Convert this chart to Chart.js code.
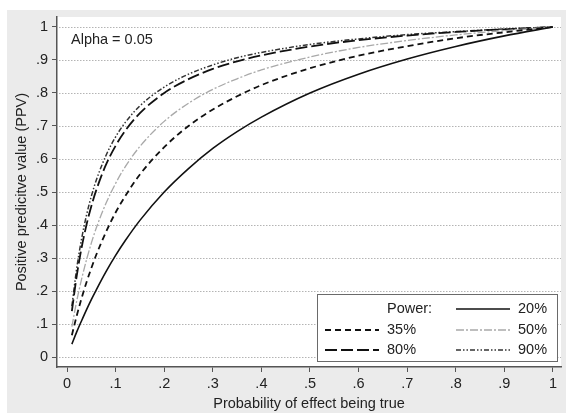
<!DOCTYPE html>
<html>
<head>
<meta charset="utf-8">
<script src="https://cdn.jsdelivr.net/npm/chart.js@4/dist/chart.umd.min.js"></script>
<style>
  html, body { margin: 0; padding: 0; background: #fff; }
  canvas { display: block; }
</style>
</head>
<body>
<canvas id="ppv" width="566" height="413"></canvas>
<script>
// Probability of effect being true (x) and PPV
const probTrue = [0.01, 0.02, 0.03, 0.04, 0.05, 0.06, 0.08, 0.1, 0.12, 0.15, 0.2, 0.25, 0.3, 0.35, 0.4, 0.5, 0.6, 0.7, 0.8, 0.9, 1];
const ppv20 = [0.039, 0.076, 0.110, 0.143, 0.174, 0.203, 0.258, 0.308, 0.353, 0.414, 0.500, 0.571, 0.632, 0.683, 0.727, 0.800, 0.857, 0.903, 0.941, 0.973, 1];
const ppv35 = [0.066, 0.125, 0.178, 0.226, 0.269, 0.309, 0.378, 0.438, 0.488, 0.553, 0.636, 0.700, 0.750, 0.790, 0.824, 0.875, 0.913, 0.942, 0.966, 0.984, 1];
const ppv50 = [0.092, 0.170, 0.236, 0.294, 0.345, 0.390, 0.465, 0.526, 0.577, 0.638, 0.714, 0.769, 0.811, 0.843, 0.870, 0.909, 0.938, 0.959, 0.976, 0.989, 1];
const ppv80 = [0.139, 0.246, 0.331, 0.400, 0.457, 0.505, 0.582, 0.640, 0.686, 0.739, 0.800, 0.842, 0.873, 0.896, 0.914, 0.941, 0.960, 0.974, 0.985, 0.993, 1];
const ppv90 = [0.154, 0.269, 0.358, 0.429, 0.487, 0.535, 0.610, 0.667, 0.711, 0.761, 0.818, 0.857, 0.885, 0.907, 0.923, 0.947, 0.964, 0.977, 0.986, 0.994, 1];

const xTicks = [0, 0.1, 0.2, 0.3, 0.4, 0.5, 0.6, 0.7, 0.8, 0.9, 1];
const xTickLabels = ['0', '.1', '.2', '.3', '.4', '.5', '.6', '.7', '.8', '.9', '1'];
const yTicks = [0, 0.1, 0.2, 0.3, 0.4, 0.5, 0.6, 0.7, 0.8, 0.9, 1];
const yTickLabels = ['0', '.1', '.2', '.3', '.4', '.5', '.6', '.7', '.8', '.9', '1'];

const FONT = '"Liberation Sans", Arial, sans-serif';
const FSIZE = 14.5;

const pts = ys => probTrue.map((x, i) => ({ x, y: ys[i] }));

const series = [
  { label: '20%', data: pts(ppv20), borderColor: '#111', borderWidth: 1.6, borderDash: [] },
  { label: '35%', data: pts(ppv35), borderColor: '#111', borderWidth: 1.8, borderDash: [6, 4] },
  { label: '50%', data: pts(ppv50), borderColor: '#a9a9a9', borderWidth: 1.3, borderDash: [8, 2, 2, 2] },
  { label: '80%', data: pts(ppv80), borderColor: '#111', borderWidth: 1.8, borderDash: [12, 4] },
  { label: '90%', data: pts(ppv90), borderColor: '#333', borderWidth: 1.5, borderDash: [5, 2, 1.5, 2, 1.5, 2] }
];

// background: white margin, light grey graph region, white plot region
const backdrop = {
  id: 'backdrop',
  beforeDraw(chart) {
    const { ctx, chartArea: a } = chart;
    ctx.save();
    ctx.fillStyle = '#fff';
    ctx.fillRect(0, 0, chart.width, chart.height);
    ctx.fillStyle = '#ebebeb';
    ctx.fillRect(7, 10, chart.width - 7, chart.height - 10);
    ctx.fillStyle = '#fff';
    ctx.fillRect(a.left, a.top, a.right - a.left, a.bottom - a.top);
    ctx.restore();
  }
};

// dotted horizontal grid at each y tick (positions come from the y scale)
const dottedGrid = {
  id: 'dottedGrid',
  beforeDatasetsDraw(chart) {
    const { ctx, chartArea: a, scales: { y } } = chart;
    ctx.save();
    ctx.strokeStyle = '#b4b4b4';
    ctx.lineWidth = 1;
    ctx.setLineDash([1.5, 1.5]);
    yTicks.forEach(v => {
      const py = Math.round(y.getPixelForValue(v)) + 0.5;
      ctx.beginPath();
      ctx.moveTo(a.left + 2, py);
      ctx.lineTo(a.right, py);
      ctx.stroke();
    });
    ctx.restore();
  }
};

// "Alpha" note + Stata-like legend box
const annotations = {
  id: 'annotations',
  afterDraw(chart) {
    const { ctx } = chart;
    ctx.save();
    ctx.font = FSIZE + 'px ' + FONT;
    ctx.fillStyle = '#222';
    ctx.textBaseline = 'middle';
    ctx.fillText('Alpha = 0.05', 71, 40);

    // legend box
    ctx.fillStyle = '#fff';
    ctx.fillRect(317, 294, 240, 67);
    ctx.strokeStyle = '#6a6a6a';
    ctx.lineWidth = 1;
    ctx.strokeRect(317.5, 294.5, 240, 67);

    const rows = [309, 330, 350];
    const cols = [{ l0: 325, l1: 379, t: 387 }, { l0: 456, l1: 510, t: 518 }];
    const slots = [[null, 0], [1, 2], [3, 4]];
    ctx.fillStyle = '#222';
    ctx.fillText('Power:', cols[0].t, rows[0]);
    slots.forEach((row, r) => {
      row.forEach((idx, c) => {
        if (idx === null) return;
        const s = series[idx];
        const col = cols[c];
        ctx.beginPath();
        ctx.strokeStyle = s.borderColor;
        ctx.lineWidth = s.borderWidth;
        ctx.setLineDash(s.borderDash);
        ctx.moveTo(col.l0, rows[r]);
        ctx.lineTo(col.l1, rows[r]);
        ctx.stroke();
        ctx.setLineDash([]);
        ctx.fillStyle = '#222';
        ctx.fillText(s.label, col.t, rows[r]);
      });
    });
    ctx.restore();
  }
};

new Chart(document.getElementById('ppv'), {
  type: 'line',
  data: {
    datasets: series.map(s => ({
      label: s.label,
      data: s.data,
      borderColor: s.borderColor,
      borderWidth: s.borderWidth,
      borderDash: s.borderDash,
      pointRadius: 0,
      fill: false,
      cubicInterpolationMode: 'monotone'
    }))
  },
  options: {
    responsive: false,
    animation: false,
    devicePixelRatio: 1,
    layout: { padding: { left: 7, top: 17, right: 5, bottom: 0 } },
    plugins: { legend: { display: false }, tooltip: { enabled: false } },
    scales: {
      x: {
        type: 'linear',
        min: -0.0206,
        max: 1.0165,
        afterBuildTicks: s => { s.ticks = xTicks.map(v => ({ value: v })); },
        afterFit: s => { s.height = 46; },
        ticks: {
          autoSkip: false,
          maxRotation: 0,
          padding: 3,
          color: '#222',
          font: { family: FONT, size: FSIZE },
          callback: (v, i) => xTickLabels[i]
        },
        grid: { drawOnChartArea: false, drawTicks: true, tickLength: 5, tickColor: '#555', tickWidth: 1 },
        border: { display: true, color: '#555', width: 1.5 },
        title: {
          display: true,
          text: 'Probability of effect being true',
          color: '#222',
          font: { family: FONT, size: FSIZE },
          padding: { top: 1, bottom: 0 }
        }
      },
      y: {
        type: 'linear',
        min: -0.0303,
        max: 1.0303,
        afterBuildTicks: s => { s.ticks = yTicks.map(v => ({ value: v })); },
        afterFit: s => { s.width = 50; },
        ticks: {
          autoSkip: false,
          padding: 4,
          color: '#222',
          font: { family: FONT, size: FSIZE },
          callback: (v, i) => yTickLabels[i]
        },
        grid: { drawOnChartArea: false, drawTicks: true, tickLength: 5, tickColor: '#555', tickWidth: 1 },
        border: { display: true, color: '#555', width: 1.5 },
        title: {
          display: true,
          text: 'Positive predicitve value (PPV)',
          color: '#222',
          font: { family: FONT, size: FSIZE },
          padding: { top: 6, bottom: 0 }
        }
      }
    }
  },
  plugins: [backdrop, dottedGrid, annotations]
});
</script>
</body>
</html>
